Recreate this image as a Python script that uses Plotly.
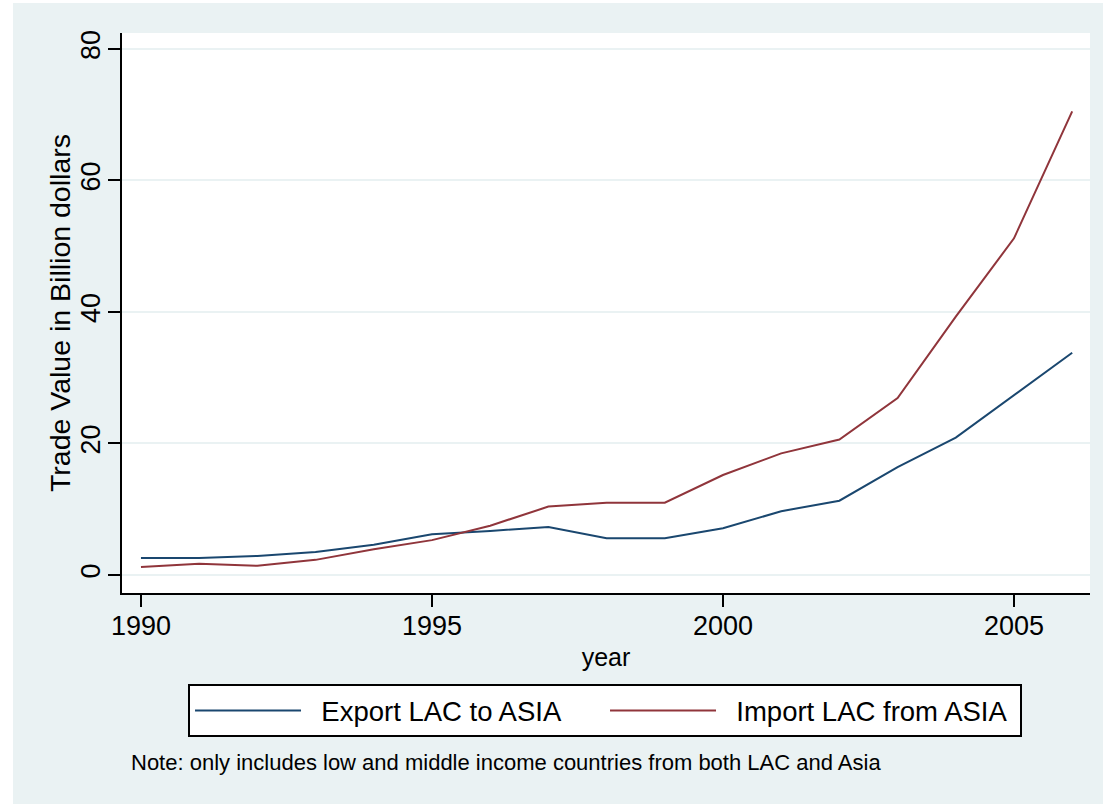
import plotly.graph_objects as go

# Trade between Latin America & Caribbean (LAC) and Asia, billions of US$
years = list(range(1990, 2007))
export_lac_to_asia = [2.6, 2.6, 2.9, 3.5, 4.6, 6.2, 6.7, 7.3, 5.6, 5.6,
                      7.1, 9.7, 11.3, 16.4, 20.9, 27.4, 33.8]
import_lac_from_asia = [1.2, 1.7, 1.4, 2.3, 3.9, 5.3, 7.5, 10.4, 11.0, 11.0,
                        15.2, 18.5, 20.6, 26.9, 39.3, 51.2, 70.5]

x_ticks = [1990, 1995, 2000, 2005]
y_ticks = [0, 20, 40, 60, 80]

series_names = ["Export LAC to ASIA", "Import LAC from ASIA"]
series_colors = ["#1a476f", "#90353b"]

FONT = "Liberation Sans, Arial, sans-serif"
BG = "#eaf2f3"
NBSP = "\u00a0"

fig = go.Figure()
for name, vals, color in zip(series_names,
                             [export_lac_to_asia, import_lac_from_asia],
                             series_colors):
    fig.add_trace(go.Scatter(
        x=years, y=vals, mode="lines", name=NBSP * 2 + name,
        line=dict(color=color, width=2),
    ))

fig.update_layout(
    width=1103, height=804,
    margin=dict(l=122, r=13, t=33, b=211),
    paper_bgcolor=BG,
    plot_bgcolor="white",
    font=dict(family=FONT, color="black", size=27),
    showlegend=True,
    legend=dict(
        orientation="h",
        x=0.0682, xanchor="left",
        y=-0.1625, yanchor="top",
        bgcolor="white", bordercolor="black", borderwidth=2,
        font=dict(size=27.5, family=FONT),
        itemwidth=106,
        entrywidth=294,
    ),
    xaxis=dict(
        range=[1989.674, 2006.306],
        tickvals=x_ticks,
        ticks="outside", ticklen=12, tickwidth=2, tickcolor="black",
        showline=True, linecolor="black", linewidth=2,
        showgrid=False, zeroline=False,
        tickfont=dict(size=27),
        ticklabelstandoff=-4,
        title=dict(text="year", font=dict(size=25), standoff=8),
    ),
    yaxis=dict(
        range=[-2.74, 82.43],
        tickvals=y_ticks,
        tickangle=-90,
        ticks="outside", ticklen=12, tickwidth=2, tickcolor="black",
        showline=True, linecolor="black", linewidth=2,
        showgrid=True, gridcolor=BG, gridwidth=2,
        zeroline=False,
        tickfont=dict(size=27),
        ticklabelstandoff=-3,
    ),
    shapes=[
        # thin white strips at the outer top and left edges
        dict(type="rect", xref="paper", yref="paper",
             x0=-0.127, x1=-0.1126, y0=-0.38, y1=1.06,
             fillcolor="white", line=dict(width=0), layer="below"),
        dict(type="rect", xref="paper", yref="paper",
             x0=-0.127, x1=1.02, y0=1.0536, y1=1.06,
             fillcolor="white", line=dict(width=0), layer="below"),
    ],
    annotations=[
        dict(text="Trade Value in Billion dollars",
             xref="paper", yref="paper", x=-0.064, y=0.5,
             xanchor="center", yanchor="middle", textangle=-90,
             showarrow=False, font=dict(size=28.5, family=FONT, color="black")),
        dict(text="Note: only includes low and middle income countries from both LAC and Asia",
             xref="paper", yref="paper", x=0.0072, y=-0.3018,
             xanchor="left", yanchor="middle", showarrow=False,
             font=dict(size=22, family=FONT, color="black")),
    ],
)

fig.write_html("out.html")
